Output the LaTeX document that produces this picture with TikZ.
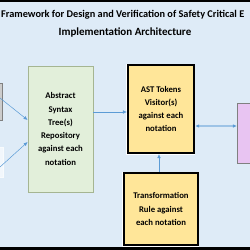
\documentclass[tikz,border=0pt]{standalone}
\usepackage{fontspec}
\setmainfont{Carlito}
\usetikzlibrary{arrows.meta}
\definecolor{bg}{HTML}{DEEBF7}
\definecolor{greenfill}{HTML}{E2EFDA}
\definecolor{greenline}{HTML}{A5B592}
\definecolor{yellowfill}{HTML}{FFE699}
\definecolor{purplefill}{HTML}{E8C4F2}
\definecolor{arrowblue}{HTML}{5B9BD5}
\definecolor{lightarrow}{HTML}{9DC3E6}
\tikzset{
  boxtext/.style={font=\fontsize{8.7}{13.3}\selectfont\bfseries, align=center},
  greenbox/.style={draw=greenline, fill=greenfill, line width=0.8pt, minimum width=65pt, minimum height=126pt, boxtext, inner sep=0pt},
  yellowbox/.style={draw=black, fill=yellowfill, line width=2.2pt, boxtext, inner sep=0pt},
  conn/.style={draw=arrowblue, line width=0.5pt, -{Latex[length=4pt,width=3.5pt]}},
  dconn/.style={draw=lightarrow, line width=1.4pt, {Latex[length=4pt,width=3.5pt,color=arrowblue]}-{Latex[length=4pt,width=3.5pt,color=arrowblue]}},
}
\begin{document}
\begin{tikzpicture}[x=1pt,y=-1pt]
\useasboundingbox (0,0) rectangle (250,250);
\clip (0,0) rectangle (250,250);
\fill[bg] (0,0) rectangle (250,250);
% borders
\fill[black] (0,0) rectangle (250,2);
\fill[black] (0,247) rectangle (250,250);
% title
\node[anchor=west, font=\fontsize{10.3}{13}\selectfont\bfseries, inner sep=0pt] (title1) at (1,15) {Framework for Design and Verification of Safety Critical E};
\node[font=\fontsize{11}{13}\selectfont\bfseries, inner sep=0pt] (title2) at (125,32) {Implementation Architecture};
% partial boxes at left
\node[draw=gray, fill=gray!40, line width=0.8pt, minimum width=20pt, minimum height=37pt, inner sep=0pt] (leftA) at (-8,101.5) {};
\node[draw=white!80!bg, fill=white!60!bg, line width=0.8pt, minimum width=20pt, minimum height=30pt, inner sep=0pt] (leftB) at (-7,162) {};
% green box
\node[greenbox] (ast) at (60.5,129) {Abstract\\Syntax\\Tree(s)\\Repository\\against each\\notation};
% yellow boxes
\fill[white] (126.5,63.5) rectangle (195.5,154.5);
\node[yellowbox, minimum width=66pt, minimum height=88pt] (visitor) at (161,109) {AST Tokens\\Visitor(s)\\against each\\notation};
\fill[white] (122.5,171.5) rectangle (199.5,246.5);
\node[yellowbox, minimum width=74pt, minimum height=72pt] (rule) at (161,209) {Transformation\\Rule against\\each notation};
% purple box
\node[draw=gray, fill=purplefill, line width=0.8pt, minimum width=30pt, minimum height=60pt, inner sep=0pt, anchor=north west] (target) at (237,103) {};
% connectors
\coordinate (inA) at (0,98);
\coordinate (inB) at (0,167);
\draw[conn] (inA) -- (ast.west |- 0,120);
\draw[conn] (inB) -- (ast.west |- 0,142);
\draw[conn] (ast.east |- 0,112) -- (visitor.west |- 0,112);
\draw[dconn] (visitor.east |- 0,126) -- (target.west |- 0,126);
\draw[conn] (rule.north -| 159,0) -- (visitor.south -| 159,0);
\end{tikzpicture}
\end{document}
